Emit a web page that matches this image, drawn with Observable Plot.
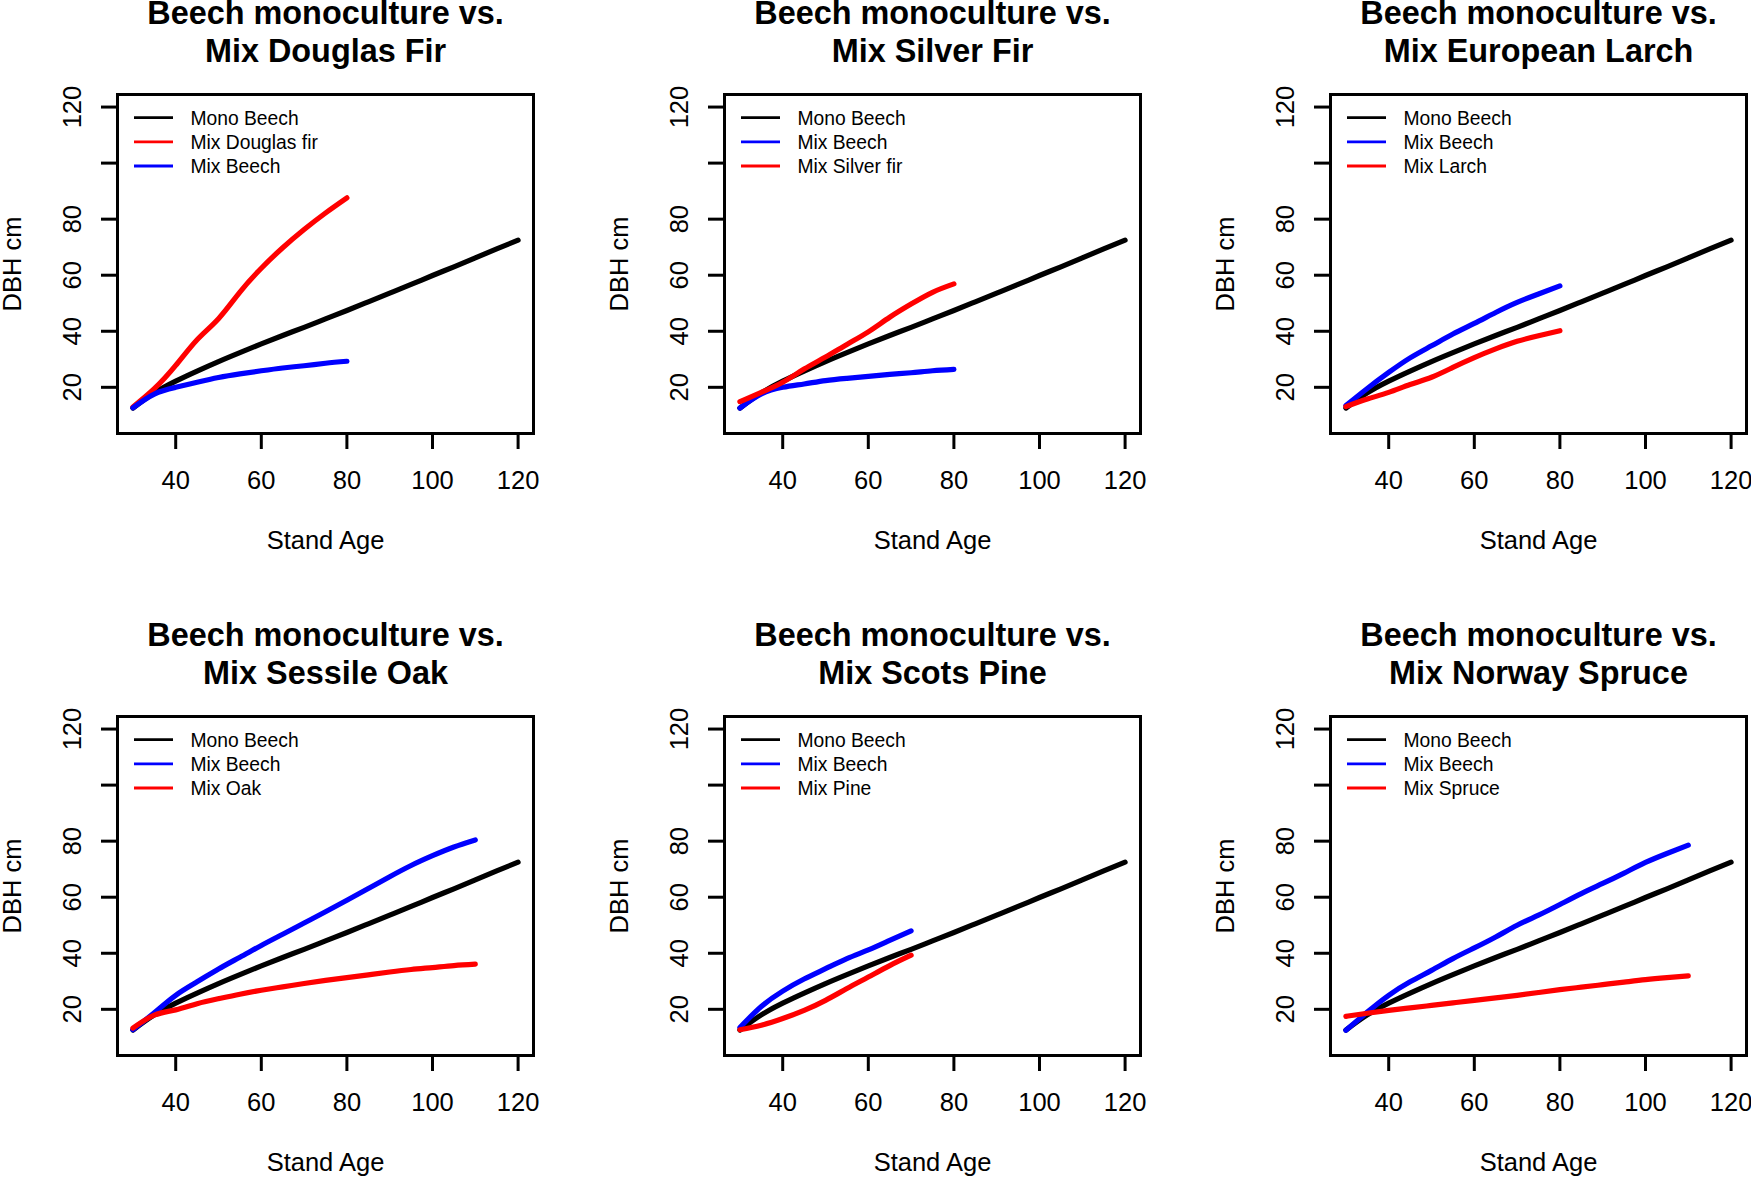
<!DOCTYPE html>
<html>
<head>
<meta charset="utf-8">
<script src="https://cdn.jsdelivr.net/npm/d3@7"></script>
<script src="https://cdn.jsdelivr.net/npm/@observablehq/plot@0.6"></script>
<style>
  html, body { margin: 0; padding: 0; background: #fff; }
  #root { position: relative; width: 1751px; height: 1178px; overflow: hidden; background: #fff; font-family: "Liberation Sans", Arial, Helvetica, sans-serif; }
  .panel { position: absolute; }
  .panel svg { max-width: none !important; display: block; }
  .legend { position: absolute; pointer-events: none; }
</style>
</head>
<body>
<div id="root"></div>
<script>
// ---------------- data ----------------
const xTicks = [40, 60, 80, 100, 120];
const yTicks = [20, 40, 60, 80, 100, 120];
const yTickLabels = ["20", "40", "60", "80", "", "120"];

const ages30to120 = [30, 35, 40, 45, 50, 55, 60, 65, 70, 75, 80, 85, 90, 95, 100, 105, 110, 115, 120];
const ages30to110 = [30, 35, 40, 45, 50, 55, 60, 65, 70, 75, 80, 85, 90, 95, 100, 105, 110];
const ages30to80 = [30, 35, 40, 45, 50, 55, 60, 65, 70, 75, 80];
const ages30to70 = [30, 35, 40, 45, 50, 55, 60, 65, 70];

const monoBeech = [12.6, 18.0, 22.2, 25.8, 29.2, 32.4, 35.5, 38.5, 41.4, 44.4, 47.4, 50.5, 53.6, 56.7, 59.9, 63.0, 66.2, 69.4, 72.5];

const mixDouglasFir = [13.0, 19.5, 27.8, 37.0, 44.5, 54.0, 62.5, 69.8, 76.3, 82.2, 87.6];
const mixBeechDouglas = [12.7, 17.6, 20.0, 21.8, 23.5, 24.8, 25.9, 26.9, 27.7, 28.6, 29.3];

const mixSilverFir = [14.9, 18.2, 21.8, 26.5, 30.8, 35.3, 39.8, 45.0, 49.7, 53.9, 56.9];
const mixBeechSilver = [12.6, 17.6, 20.0, 21.2, 22.4, 23.2, 23.9, 24.6, 25.2, 25.9, 26.4];

const mixBeechLarch = [13.5, 19.6, 25.3, 30.5, 34.8, 39.0, 42.8, 46.7, 50.3, 53.3, 56.2];
const mixLarch = [13.1, 15.8, 18.2, 21.0, 23.6, 27.1, 30.6, 33.7, 36.4, 38.4, 40.2];

const mixBeechOak = [12.7, 18.8, 25.0, 29.8, 34.4, 38.6, 42.8, 46.8, 50.8, 54.8, 58.9, 63.1, 67.3, 71.3, 74.8, 77.9, 80.4];
const mixOak = [13.3, 17.9, 19.8, 22.0, 23.8, 25.4, 26.8, 28.0, 29.2, 30.3, 31.3, 32.3, 33.3, 34.2, 34.9, 35.6, 36.1];

const mixBeechPine = [13.5, 21.0, 26.5, 30.8, 34.5, 38.1, 41.2, 44.6, 48.0];
const mixPine = [12.7, 14.3, 16.7, 19.6, 23.2, 27.4, 31.5, 35.6, 39.3];

const mixBeechSpruce = [12.5, 19.0, 25.0, 29.8, 33.9, 38.1, 41.9, 45.8, 50.0, 53.6, 57.4, 61.3, 64.9, 68.6, 72.4, 75.6, 78.6];
const mixSpruce = [17.5, 18.6, 19.6, 20.5, 21.4, 22.3, 23.2, 24.1, 25.0, 26.0, 27.0, 27.9, 28.8, 29.7, 30.6, 31.3, 31.9];

const titles = [
  "Beech monoculture vs.\nMix Douglas Fir",
  "Beech monoculture vs.\nMix Silver Fir",
  "Beech monoculture vs.\nMix European Larch",
  "Beech monoculture vs.\nMix Sessile Oak",
  "Beech monoculture vs.\nMix Scots Pine",
  "Beech monoculture vs.\nMix Norway Spruce"
];
const xLabel = "Stand Age";
const yLabel = "DBH cm";
const BLACK = "#000000", RED = "#FF0000", BLUE = "#0000FF";

const panels = [
  {title: titles[0], row: 0, col: 0, series: [
    {name: "Mono Beech", color: BLACK, ages: ages30to120, values: monoBeech},
    {name: "Mix Douglas fir", color: RED, ages: ages30to80, values: mixDouglasFir},
    {name: "Mix Beech", color: BLUE, ages: ages30to80, values: mixBeechDouglas}]},
  {title: titles[1], row: 0, col: 1, series: [
    {name: "Mono Beech", color: BLACK, ages: ages30to120, values: monoBeech},
    {name: "Mix Beech", color: BLUE, ages: ages30to80, values: mixBeechSilver},
    {name: "Mix Silver fir", color: RED, ages: ages30to80, values: mixSilverFir}]},
  {title: titles[2], row: 0, col: 2, series: [
    {name: "Mono Beech", color: BLACK, ages: ages30to120, values: monoBeech},
    {name: "Mix Beech", color: BLUE, ages: ages30to80, values: mixBeechLarch},
    {name: "Mix Larch", color: RED, ages: ages30to80, values: mixLarch}]},
  {title: titles[3], row: 1, col: 0, series: [
    {name: "Mono Beech", color: BLACK, ages: ages30to120, values: monoBeech},
    {name: "Mix Beech", color: BLUE, ages: ages30to110, values: mixBeechOak},
    {name: "Mix Oak", color: RED, ages: ages30to110, values: mixOak}]},
  {title: titles[4], row: 1, col: 1, series: [
    {name: "Mono Beech", color: BLACK, ages: ages30to120, values: monoBeech},
    {name: "Mix Beech", color: BLUE, ages: ages30to70, values: mixBeechPine},
    {name: "Mix Pine", color: RED, ages: ages30to70, values: mixPine}]},
  {title: titles[5], row: 1, col: 2, series: [
    {name: "Mono Beech", color: BLACK, ages: ages30to120, values: monoBeech},
    {name: "Mix Beech", color: BLUE, ages: ages30to110, values: mixBeechSpruce},
    {name: "Mix Spruce", color: RED, ages: ages30to110, values: mixSpruce}]}
];

// ---------------- layout ----------------
const FONT = "'Liberation Sans', Arial, Helvetica, sans-serif";
const ML = 120, MT = 100, MR = 30, MB = 140, BOXW = 416, BOXH = 339;
const colBoxLeft = [117.3, 724, 1330];
const rowBoxTop = [93.7, 716.3];
const FS = 25.5;

const root = document.getElementById("root");

for (const p of panels) {
  const width = ML + BOXW + MR;
  const height = MT + BOXH + MB;
  const marks = [
    ...p.series.map(s => Plot.line(s.ages.map((a, i) => ({age: a, dbh: s.values[i]})), {
      x: "age", y: "dbh", stroke: s.color, strokeWidth: 5.2, curve: "natural",
      strokeLinecap: "round", strokeLinejoin: "round"
    })),
    Plot.frame({stroke: "black", strokeWidth: 3}),
    Plot.axisX({ticks: xTicks, tickSize: 16, tickPadding: 21.4, fontSize: FS, strokeWidth: 3, label: null}),
    Plot.axisY({ticks: yTicks, tickFormat: (d) => yTickLabels[yTicks.indexOf(d)], tickRotate: -90,
      tickSize: 16, tickPadding: 20.3, fontSize: FS, strokeWidth: 3, label: null}),
    Plot.text([p.title], {text: d => d, frameAnchor: "top", lineAnchor: "bottom", dy: -33,
      fontSize: 32.4, fontWeight: "bold", lineHeight: 1.15}),
    Plot.text([xLabel], {text: d => d, frameAnchor: "bottom", lineAnchor: "bottom", dy: 115, fontSize: FS}),
    Plot.text([yLabel], {text: d => d, frameAnchor: "left", rotate: -90, lineAnchor: "bottom", textAnchor: "middle", dx: -97, fontSize: FS})
  ];
  const svg = Plot.plot({
    width, height,
    marginLeft: ML, marginTop: MT, marginRight: MR, marginBottom: MB,
    x: {domain: [26.4, 123.6]},
    y: {domain: [3.52, 124.48]},
    style: {fontFamily: FONT, color: "black", background: "transparent", overflow: "visible", maxWidth: "none"},
    marks
  });
  const wrap = document.createElement("div");
  wrap.className = "panel";
  wrap.style.left = (colBoxLeft[p.col] - ML) + "px";
  wrap.style.top = (rowBoxTop[p.row] - MT) + "px";
  wrap.style.width = width + "px";
  wrap.style.height = height + "px";
  wrap.appendChild(svg);
  root.appendChild(wrap);

  // legend (inside the plot box, top-left)
  const ns = "http://www.w3.org/2000/svg";
  const lg = document.createElementNS(ns, "svg");
  lg.setAttribute("width", 280); lg.setAttribute("height", 100);
  lg.setAttribute("class", "legend");
  lg.style.left = colBoxLeft[p.col] + "px";
  lg.style.top = rowBoxTop[p.row] + "px";
  p.series.forEach((s, i) => {
    const y = 23.6 + i * 24.2;
    const ln = document.createElementNS(ns, "line");
    ln.setAttribute("x1", 17); ln.setAttribute("x2", 56);
    ln.setAttribute("y1", y); ln.setAttribute("y2", y);
    ln.setAttribute("stroke", s.color); ln.setAttribute("stroke-width", 2.8);
    lg.appendChild(ln);
    const tx = document.createElementNS(ns, "text");
    tx.setAttribute("x", 73.4); tx.setAttribute("y", y);
    tx.setAttribute("dy", "0.36em");
    tx.setAttribute("font-size", 19.3);
    tx.setAttribute("font-family", FONT);
    tx.setAttribute("fill", "black");
    tx.textContent = s.name;
    lg.appendChild(tx);
  });
  root.appendChild(lg);
}
</script>
</body>
</html>
